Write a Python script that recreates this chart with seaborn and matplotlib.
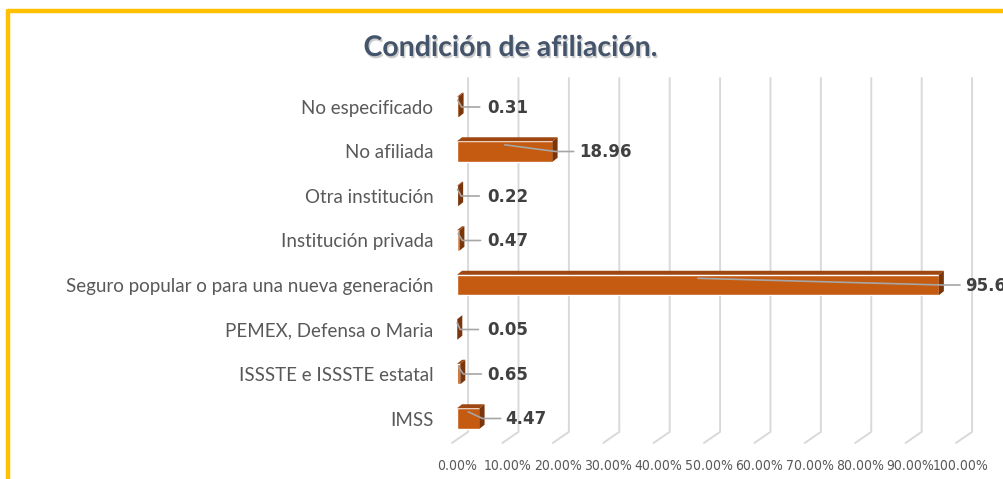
import pandas as pd
import matplotlib.pyplot as plt
import numpy as np
import seaborn as sns
from matplotlib import font_manager
from matplotlib.font_manager import FontProperties
from matplotlib.patches import Polygon
from matplotlib.lines import Line2D
from matplotlib.transforms import ScaledTranslation
import matplotlib.patheffects as pe

# Data
categorias = ['No especificado', 'No afiliada', 'Otra institución', 'Institución privada',
              'Seguro popular o para una nueva generación', 'PEMEX, Defensa o Maria',
              'ISSSTE e ISSSTE estatal', 'IMSS']
valores = [0.31, 18.96, 0.22, 0.47, 95.6, 0.05, 0.65, 4.47]
ticks = [0, 10, 20, 30, 40, 50, 60, 70, 80, 90, 100]
tick_labels = [f"{t:.2f}%" for t in ticks]

df = pd.DataFrame({'condicion': categorias, 'valor': valores})

sns.set_style('white')
plt.rcParams['font.family'] = ['Lato', 'DejaVu Sans']

# look for a condensed face for the axis ticks
tick_fp = None
for f in font_manager.fontManager.ttflist:
    nm = f.name.lower()
    if ('narrow' in nm or 'condensed' in nm or f.stretch in ('condensed', 'semi-condensed')) \
            and f.weight in ('normal', 400, 'regular', 'book') and f.style == 'normal':
        tick_fp = FontProperties(fname=f.fname, size=10)
        break
if tick_fp is None:
    tick_fp = FontProperties(family='Lato', size=8.5)

orange = '#C55A11'
top_c = '#9E4710'
side_c = '#7A350B'
grid_c = '#D9D9D9'
txt_c = '#595959'

W, H = 1004, 479
fig = plt.figure(figsize=(W / 100, H / 100), dpi=100)
ax = fig.add_axes([457 / W, 38.25 / H, 504 / W, 356 / H])

bar_h = 0.46
sns.barplot(data=df, x='valor', y='condicion', orient='h', color=orange,
            width=bar_h, saturation=1, ax=ax, zorder=3)
ax.set_xlim(0, 100)
ax.set_ylim(7.5, -0.5)

# fake 3D depth
dx, dy = 1.0, 0.09
for i, v in enumerate(valores):
    yt = i - bar_h / 2
    yb = i + bar_h / 2
    ax.add_patch(Polygon([(0, yt), (v, yt), (v + dx, yt - dy), (dx, yt - dy)],
                         closed=True, fc=top_c, ec='none', zorder=3))
    ax.add_patch(Polygon([(v, yt), (v + dx, yt - dy), (v + dx, yb - dy), (v, yb)],
                         closed=True, fc=side_c, ec='none', zorder=3))
    # leader line + data label
    ax.plot([v / 2, v + dx * 0.6, v + 4.2], [yt + 0.08, i, i],
            color='#A6A6A6', lw=1.2, zorder=4, clip_on=False)
    ax.text(v + 5.2 if v > 1 else 6.0, i + 0.02, f"{v:g}", ha='left', va='center', fontsize=12,
            fontweight='bold', color='#404040', family='DejaVu Sans', zorder=5)

# gridlines on the back wall with the floor diagonal
gx = 2.2
for t in ticks:
    ax.plot([t + gx, t + gx, t - 1.0], [-0.65, 7.3, 7.55], color=grid_c,
            lw=1.4, zorder=1, clip_on=False)

ax.set_xticks(ticks)
ax.set_xticklabels(tick_labels, color=txt_c, fontproperties=tick_fp)
for lbl in ax.get_xticklabels():
    lbl.set_transform(lbl.get_transform() + ScaledTranslation(-5 / 100, 0, fig.dpi_scale_trans))
for lbl in ax.get_yticklabels():
    lbl.set_transform(lbl.get_transform() + ScaledTranslation(0, -3 / 100, fig.dpi_scale_trans))
ax.tick_params(axis='x', length=0, pad=13)
ax.tick_params(axis='y', length=0, pad=17, labelsize=13.5, labelcolor=txt_c)
ax.set_xlabel('')
ax.set_ylabel('')
sns.despine(ax=ax, left=True, bottom=True)
ax.patch.set_alpha(0)

fig.text(511 / W, 1 - 48 / H, 'Condición de afiliación.', ha='center', va='center',
         fontsize=20.5, fontweight='bold', color='#44546A',
         path_effects=[pe.withSimplePatchShadow(offset=(1, -1.5), shadow_rgbFace='#7F7F7F', alpha=0.4)])

# yellow frame (top and left edges visible)
fig.add_artist(Line2D([8 / W, 1], [1 - 11 / H, 1 - 11 / H], color='#FFC000', lw=3.2))
fig.add_artist(Line2D([8 / W, 8 / W], [0, 1 - 11 / H], color='#FFC000', lw=3.2))

plt.savefig('out.png', dpi=100)
